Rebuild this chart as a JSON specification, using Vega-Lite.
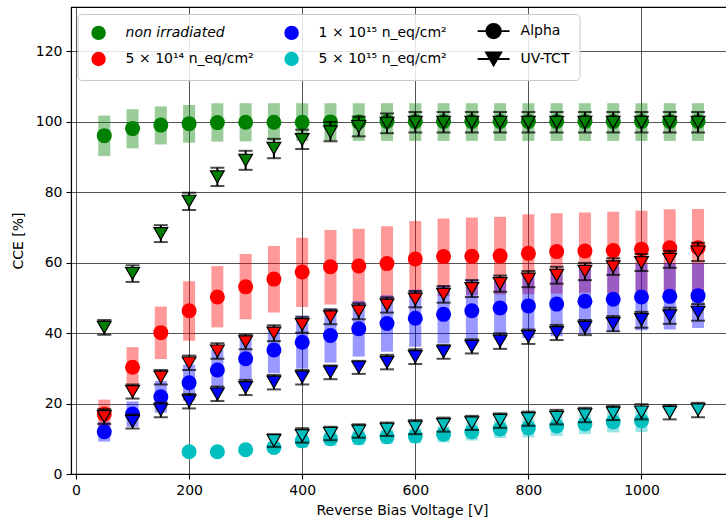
{
  "$schema": "https://vega.github.io/schema/vega-lite/v6.json",
  "autosize": {"type": "none"},
  "padding": {"left": 71, "top": 7, "right": 0, "bottom": 50},
  "width": 662,
  "height": 467,
  "config": {
    "font": "DejaVu Sans",
    "view": {"stroke": "black", "strokeWidth": 1.1},
    "axis": {
      "labelFont": "DejaVu Sans", "labelFontSize": 14, "labelColor": "black",
      "titleFont": "DejaVu Sans", "titleFontSize": 14, "titleFontWeight": "normal", "titleColor": "black",
      "domainColor": "black", "domainWidth": 1.1,
      "tickColor": "black", "tickSize": 5, "tickWidth": 1.1,
      "labelPadding": 4,
      "gridColor": "black", "gridWidth": 0.9, "gridOpacity": 0.75
    }
  },
  "data": {"values": [
    {"s":"non irradiated","m":"Alpha","V":50,"y":96.0,"lo":90.2,"hi":101.7},
    {"s":"non irradiated","m":"Alpha","V":100,"y":98.0,"lo":92.4,"hi":103.5},
    {"s":"non irradiated","m":"Alpha","V":150,"y":99.0,"lo":93.5,"hi":104.3},
    {"s":"non irradiated","m":"Alpha","V":200,"y":99.4,"lo":94.0,"hi":104.7},
    {"s":"non irradiated","m":"Alpha","V":250,"y":99.7,"lo":94.3,"hi":105.2},
    {"s":"non irradiated","m":"Alpha","V":300,"y":99.8,"lo":94.4,"hi":105.2},
    {"s":"non irradiated","m":"Alpha","V":350,"y":99.8,"lo":94.5,"hi":105.2},
    {"s":"non irradiated","m":"Alpha","V":400,"y":99.8,"lo":94.5,"hi":105.2},
    {"s":"non irradiated","m":"Alpha","V":450,"y":99.9,"lo":94.5,"hi":105.2},
    {"s":"non irradiated","m":"Alpha","V":500,"y":99.9,"lo":94.5,"hi":105.2},
    {"s":"non irradiated","m":"Alpha","V":550,"y":100.0,"lo":94.5,"hi":105.2},
    {"s":"non irradiated","m":"Alpha","V":600,"y":100.0,"lo":94.5,"hi":105.2},
    {"s":"non irradiated","m":"Alpha","V":650,"y":100.0,"lo":94.5,"hi":105.2},
    {"s":"non irradiated","m":"Alpha","V":700,"y":100.0,"lo":94.5,"hi":105.2},
    {"s":"non irradiated","m":"Alpha","V":750,"y":100.0,"lo":94.5,"hi":105.2},
    {"s":"non irradiated","m":"Alpha","V":800,"y":100.0,"lo":94.5,"hi":105.2},
    {"s":"non irradiated","m":"Alpha","V":850,"y":100.0,"lo":94.5,"hi":105.2},
    {"s":"non irradiated","m":"Alpha","V":900,"y":100.0,"lo":94.5,"hi":105.2},
    {"s":"non irradiated","m":"Alpha","V":950,"y":100.0,"lo":94.5,"hi":105.2},
    {"s":"non irradiated","m":"Alpha","V":1000,"y":100.0,"lo":94.5,"hi":105.2},
    {"s":"non irradiated","m":"Alpha","V":1050,"y":100.0,"lo":94.5,"hi":105.2},
    {"s":"non irradiated","m":"Alpha","V":1100,"y":100.0,"lo":94.5,"hi":105.2},

    {"s":"5e14","m":"Alpha","V":50,"y":17.0,"lo":12.8,"hi":21.1},
    {"s":"5e14","m":"Alpha","V":100,"y":30.3,"lo":24.6,"hi":36.0},
    {"s":"5e14","m":"Alpha","V":150,"y":40.1,"lo":32.6,"hi":47.5},
    {"s":"5e14","m":"Alpha","V":200,"y":46.3,"lo":37.8,"hi":54.7},
    {"s":"5e14","m":"Alpha","V":250,"y":50.2,"lo":41.6,"hi":59.0},
    {"s":"5e14","m":"Alpha","V":300,"y":53.1,"lo":43.9,"hi":62.4},
    {"s":"5e14","m":"Alpha","V":350,"y":55.3,"lo":45.8,"hi":64.7},
    {"s":"5e14","m":"Alpha","V":400,"y":57.3,"lo":47.4,"hi":67.0},
    {"s":"5e14","m":"Alpha","V":450,"y":58.8,"lo":48.1,"hi":69.2},
    {"s":"5e14","m":"Alpha","V":500,"y":59.0,"lo":48.4,"hi":69.6},
    {"s":"5e14","m":"Alpha","V":550,"y":59.7,"lo":49.0,"hi":70.3},
    {"s":"5e14","m":"Alpha","V":600,"y":61.0,"lo":50.0,"hi":71.8},
    {"s":"5e14","m":"Alpha","V":650,"y":61.7,"lo":50.5,"hi":72.5},
    {"s":"5e14","m":"Alpha","V":700,"y":61.8,"lo":50.8,"hi":72.8},
    {"s":"5e14","m":"Alpha","V":750,"y":61.9,"lo":50.9,"hi":73.0},
    {"s":"5e14","m":"Alpha","V":800,"y":62.6,"lo":51.0,"hi":73.7},
    {"s":"5e14","m":"Alpha","V":850,"y":63.1,"lo":51.2,"hi":74.0},
    {"s":"5e14","m":"Alpha","V":900,"y":63.3,"lo":51.4,"hi":74.2},
    {"s":"5e14","m":"Alpha","V":950,"y":63.4,"lo":51.3,"hi":74.4},
    {"s":"5e14","m":"Alpha","V":1000,"y":63.8,"lo":51.0,"hi":74.7},
    {"s":"5e14","m":"Alpha","V":1050,"y":64.2,"lo":51.2,"hi":75.1},
    {"s":"5e14","m":"Alpha","V":1100,"y":64.2,"lo":51.2,"hi":75.2},

    {"s":"1e15","m":"Alpha","V":50,"y":12.0,"lo":9.2,"hi":14.8},
    {"s":"1e15","m":"Alpha","V":100,"y":17.0,"lo":13.4,"hi":20.6},
    {"s":"1e15","m":"Alpha","V":150,"y":21.9,"lo":17.4,"hi":26.4},
    {"s":"1e15","m":"Alpha","V":200,"y":25.9,"lo":20.8,"hi":31.0},
    {"s":"1e15","m":"Alpha","V":250,"y":29.5,"lo":23.7,"hi":35.3},
    {"s":"1e15","m":"Alpha","V":300,"y":32.7,"lo":26.5,"hi":38.9},
    {"s":"1e15","m":"Alpha","V":350,"y":35.2,"lo":28.6,"hi":41.8},
    {"s":"1e15","m":"Alpha","V":400,"y":37.4,"lo":29.9,"hi":44.9},
    {"s":"1e15","m":"Alpha","V":450,"y":39.3,"lo":31.6,"hi":47.0},
    {"s":"1e15","m":"Alpha","V":500,"y":41.2,"lo":33.3,"hi":49.1},
    {"s":"1e15","m":"Alpha","V":550,"y":42.7,"lo":34.7,"hi":50.7},
    {"s":"1e15","m":"Alpha","V":600,"y":44.2,"lo":36.1,"hi":52.3},
    {"s":"1e15","m":"Alpha","V":650,"y":45.3,"lo":37.0,"hi":53.6},
    {"s":"1e15","m":"Alpha","V":700,"y":46.3,"lo":37.4,"hi":55.2},
    {"s":"1e15","m":"Alpha","V":750,"y":47.1,"lo":38.2,"hi":56.0},
    {"s":"1e15","m":"Alpha","V":800,"y":47.7,"lo":38.6,"hi":56.8},
    {"s":"1e15","m":"Alpha","V":850,"y":48.2,"lo":39.1,"hi":57.3},
    {"s":"1e15","m":"Alpha","V":900,"y":49.0,"lo":39.8,"hi":58.2},
    {"s":"1e15","m":"Alpha","V":950,"y":49.6,"lo":40.3,"hi":58.9},
    {"s":"1e15","m":"Alpha","V":1000,"y":50.2,"lo":40.8,"hi":59.6},
    {"s":"1e15","m":"Alpha","V":1050,"y":50.4,"lo":41.0,"hi":59.8},
    {"s":"1e15","m":"Alpha","V":1100,"y":50.6,"lo":41.4,"hi":59.8},

    {"s":"5e15","m":"Alpha","V":200,"y":6.3,"lo":5.0,"hi":7.6},
    {"s":"5e15","m":"Alpha","V":250,"y":6.3,"lo":5.0,"hi":7.6},
    {"s":"5e15","m":"Alpha","V":300,"y":6.9,"lo":5.5,"hi":8.3},
    {"s":"5e15","m":"Alpha","V":350,"y":7.5,"lo":6.0,"hi":9.0},
    {"s":"5e15","m":"Alpha","V":400,"y":9.4,"lo":7.5,"hi":11.3},
    {"s":"5e15","m":"Alpha","V":450,"y":10.0,"lo":8.0,"hi":12.0},
    {"s":"5e15","m":"Alpha","V":500,"y":10.3,"lo":8.2,"hi":12.4},
    {"s":"5e15","m":"Alpha","V":550,"y":10.6,"lo":8.5,"hi":12.7},
    {"s":"5e15","m":"Alpha","V":600,"y":10.8,"lo":8.7,"hi":13.0},
    {"s":"5e15","m":"Alpha","V":650,"y":11.3,"lo":9.0,"hi":13.6},
    {"s":"5e15","m":"Alpha","V":700,"y":12.0,"lo":9.5,"hi":14.5},
    {"s":"5e15","m":"Alpha","V":750,"y":12.8,"lo":10.2,"hi":15.4},
    {"s":"5e15","m":"Alpha","V":800,"y":13.1,"lo":10.4,"hi":15.8},
    {"s":"5e15","m":"Alpha","V":850,"y":13.6,"lo":10.8,"hi":16.4},
    {"s":"5e15","m":"Alpha","V":900,"y":14.2,"lo":11.3,"hi":17.1},
    {"s":"5e15","m":"Alpha","V":950,"y":14.8,"lo":11.8,"hi":17.8},
    {"s":"5e15","m":"Alpha","V":1000,"y":15.1,"lo":11.9,"hi":18.3},

    {"s":"non irradiated","m":"UV-TCT","V":50,"y":41.6,"lo":39.5,"hi":43.7},
    {"s":"non irradiated","m":"UV-TCT","V":100,"y":56.9,"lo":54.5,"hi":59.2},
    {"s":"non irradiated","m":"UV-TCT","V":150,"y":68.2,"lo":65.8,"hi":70.6},
    {"s":"non irradiated","m":"UV-TCT","V":200,"y":77.4,"lo":74.9,"hi":79.8},
    {"s":"non irradiated","m":"UV-TCT","V":250,"y":84.3,"lo":81.7,"hi":86.9},
    {"s":"non irradiated","m":"UV-TCT","V":300,"y":89.0,"lo":86.3,"hi":91.7},
    {"s":"non irradiated","m":"UV-TCT","V":350,"y":92.4,"lo":89.6,"hi":95.1},
    {"s":"non irradiated","m":"UV-TCT","V":400,"y":94.9,"lo":92.2,"hi":97.7},
    {"s":"non irradiated","m":"UV-TCT","V":450,"y":97.1,"lo":94.4,"hi":99.9},
    {"s":"non irradiated","m":"UV-TCT","V":500,"y":98.6,"lo":95.8,"hi":101.4},
    {"s":"non irradiated","m":"UV-TCT","V":550,"y":99.5,"lo":96.7,"hi":102.3},
    {"s":"non irradiated","m":"UV-TCT","V":600,"y":99.8,"lo":96.9,"hi":102.7},
    {"s":"non irradiated","m":"UV-TCT","V":650,"y":99.8,"lo":96.9,"hi":102.7},
    {"s":"non irradiated","m":"UV-TCT","V":700,"y":99.8,"lo":96.9,"hi":102.7},
    {"s":"non irradiated","m":"UV-TCT","V":750,"y":99.8,"lo":96.9,"hi":102.7},
    {"s":"non irradiated","m":"UV-TCT","V":800,"y":99.8,"lo":96.9,"hi":102.7},
    {"s":"non irradiated","m":"UV-TCT","V":850,"y":99.8,"lo":96.9,"hi":102.7},
    {"s":"non irradiated","m":"UV-TCT","V":900,"y":99.8,"lo":96.9,"hi":102.7},
    {"s":"non irradiated","m":"UV-TCT","V":950,"y":99.8,"lo":96.9,"hi":102.7},
    {"s":"non irradiated","m":"UV-TCT","V":1000,"y":99.8,"lo":96.9,"hi":102.7},
    {"s":"non irradiated","m":"UV-TCT","V":1050,"y":99.8,"lo":96.9,"hi":102.7},
    {"s":"non irradiated","m":"UV-TCT","V":1100,"y":99.8,"lo":96.9,"hi":102.7},

    {"s":"5e14","m":"UV-TCT","V":50,"y":16.3,"lo":14.2,"hi":18.4},
    {"s":"5e14","m":"UV-TCT","V":100,"y":23.4,"lo":21.4,"hi":25.4},
    {"s":"5e14","m":"UV-TCT","V":150,"y":27.5,"lo":25.4,"hi":29.5},
    {"s":"5e14","m":"UV-TCT","V":200,"y":31.5,"lo":29.5,"hi":33.6},
    {"s":"5e14","m":"UV-TCT","V":250,"y":34.9,"lo":32.7,"hi":37.1},
    {"s":"5e14","m":"UV-TCT","V":300,"y":37.5,"lo":35.4,"hi":39.6},
    {"s":"5e14","m":"UV-TCT","V":350,"y":40.0,"lo":37.7,"hi":42.2},
    {"s":"5e14","m":"UV-TCT","V":400,"y":42.4,"lo":40.1,"hi":44.6},
    {"s":"5e14","m":"UV-TCT","V":450,"y":44.6,"lo":42.5,"hi":46.7},
    {"s":"5e14","m":"UV-TCT","V":500,"y":46.2,"lo":43.9,"hi":48.4},
    {"s":"5e14","m":"UV-TCT","V":550,"y":47.9,"lo":45.8,"hi":50.1},
    {"s":"5e14","m":"UV-TCT","V":600,"y":49.6,"lo":47.3,"hi":51.9},
    {"s":"5e14","m":"UV-TCT","V":650,"y":51.0,"lo":48.6,"hi":53.3},
    {"s":"5e14","m":"UV-TCT","V":700,"y":52.6,"lo":50.2,"hi":55.0},
    {"s":"5e14","m":"UV-TCT","V":750,"y":54.0,"lo":51.7,"hi":56.3},
    {"s":"5e14","m":"UV-TCT","V":800,"y":55.3,"lo":53.0,"hi":57.6},
    {"s":"5e14","m":"UV-TCT","V":850,"y":56.4,"lo":54.0,"hi":58.8},
    {"s":"5e14","m":"UV-TCT","V":900,"y":57.5,"lo":55.0,"hi":59.9},
    {"s":"5e14","m":"UV-TCT","V":950,"y":58.8,"lo":56.5,"hi":61.2},
    {"s":"5e14","m":"UV-TCT","V":1000,"y":60.0,"lo":57.6,"hi":62.4},
    {"s":"5e14","m":"UV-TCT","V":1050,"y":60.9,"lo":58.5,"hi":63.3},
    {"s":"5e14","m":"UV-TCT","V":1100,"y":63.0,"lo":60.4,"hi":65.6},

    {"s":"1e15","m":"UV-TCT","V":100,"y":14.9,"lo":12.9,"hi":16.9},
    {"s":"1e15","m":"UV-TCT","V":150,"y":18.2,"lo":16.1,"hi":20.2},
    {"s":"1e15","m":"UV-TCT","V":200,"y":20.7,"lo":18.6,"hi":22.7},
    {"s":"1e15","m":"UV-TCT","V":250,"y":22.7,"lo":20.7,"hi":24.8},
    {"s":"1e15","m":"UV-TCT","V":300,"y":24.5,"lo":22.4,"hi":26.7},
    {"s":"1e15","m":"UV-TCT","V":350,"y":26.1,"lo":24.0,"hi":28.1},
    {"s":"1e15","m":"UV-TCT","V":400,"y":27.5,"lo":25.4,"hi":29.5},
    {"s":"1e15","m":"UV-TCT","V":450,"y":28.9,"lo":26.9,"hi":30.8},
    {"s":"1e15","m":"UV-TCT","V":500,"y":30.3,"lo":28.4,"hi":32.1},
    {"s":"1e15","m":"UV-TCT","V":550,"y":31.7,"lo":29.7,"hi":33.8},
    {"s":"1e15","m":"UV-TCT","V":600,"y":33.3,"lo":31.2,"hi":35.4},
    {"s":"1e15","m":"UV-TCT","V":650,"y":34.7,"lo":32.7,"hi":36.6},
    {"s":"1e15","m":"UV-TCT","V":700,"y":36.2,"lo":34.2,"hi":38.2},
    {"s":"1e15","m":"UV-TCT","V":750,"y":37.7,"lo":35.5,"hi":39.9},
    {"s":"1e15","m":"UV-TCT","V":800,"y":39.0,"lo":36.9,"hi":41.0},
    {"s":"1e15","m":"UV-TCT","V":850,"y":40.1,"lo":38.0,"hi":42.3},
    {"s":"1e15","m":"UV-TCT","V":900,"y":41.6,"lo":39.4,"hi":43.7},
    {"s":"1e15","m":"UV-TCT","V":950,"y":42.7,"lo":40.5,"hi":44.8},
    {"s":"1e15","m":"UV-TCT","V":1000,"y":43.8,"lo":41.5,"hi":46.0},
    {"s":"1e15","m":"UV-TCT","V":1050,"y":44.9,"lo":42.6,"hi":47.2},
    {"s":"1e15","m":"UV-TCT","V":1100,"y":45.9,"lo":43.5,"hi":48.2},

    {"s":"5e15","m":"UV-TCT","V":350,"y":9.5,"lo":7.7,"hi":11.3},
    {"s":"5e15","m":"UV-TCT","V":400,"y":10.9,"lo":8.9,"hi":13.0},
    {"s":"5e15","m":"UV-TCT","V":450,"y":11.5,"lo":9.6,"hi":13.4},
    {"s":"5e15","m":"UV-TCT","V":500,"y":12.2,"lo":10.3,"hi":14.1},
    {"s":"5e15","m":"UV-TCT","V":550,"y":12.7,"lo":10.8,"hi":14.6},
    {"s":"5e15","m":"UV-TCT","V":600,"y":13.3,"lo":11.3,"hi":15.3},
    {"s":"5e15","m":"UV-TCT","V":650,"y":14.0,"lo":12.0,"hi":16.0},
    {"s":"5e15","m":"UV-TCT","V":700,"y":14.5,"lo":12.5,"hi":16.5},
    {"s":"5e15","m":"UV-TCT","V":750,"y":15.2,"lo":13.1,"hi":17.2},
    {"s":"5e15","m":"UV-TCT","V":800,"y":15.7,"lo":13.7,"hi":17.7},
    {"s":"5e15","m":"UV-TCT","V":850,"y":16.1,"lo":14.1,"hi":18.2},
    {"s":"5e15","m":"UV-TCT","V":900,"y":16.8,"lo":14.7,"hi":18.8},
    {"s":"5e15","m":"UV-TCT","V":950,"y":17.3,"lo":15.3,"hi":19.3},
    {"s":"5e15","m":"UV-TCT","V":1000,"y":17.6,"lo":15.5,"hi":19.8},
    {"s":"5e15","m":"UV-TCT","V":1050,"y":17.5,"lo":15.5,"hi":19.6},
    {"s":"5e15","m":"UV-TCT","V":1100,"y":18.2,"lo":16.1,"hi":20.2}
  ]},
  "encoding": {
    "x": {"field": "V", "type": "quantitative",
      "scale": {"domain": [0, 1153], "nice": false, "zero": false},
      "axis": {"values": [0, 200, 400, 600, 800, 1000], "format": "d", "title": "Reverse Bias Voltage [V]", "titlePadding": 6}},
    "y": {"type": "quantitative",
      "scale": {"domain": [0, 132.5], "nice": false},
      "axis": {"values": [0, 20, 40, 60, 80, 100, 120], "format": "d", "title": "CCE [%]", "titlePadding": 10}}
  },
  "layer": [
    {
      "transform": [{"filter": "datum.m === 'Alpha'"}],
      "mark": {"type": "bar", "size": 12, "fillOpacity": 0.4, "strokeWidth": 0},
      "encoding": {
        "y": {"field": "lo", "type": "quantitative"},
        "y2": {"field": "hi"},
        "fill": {"field": "s", "type": "nominal", "legend": null,
          "scale": {"domain": ["non irradiated", "5e14", "1e15", "5e15"], "range": ["#008000", "#ff0000", "#0000ff", "#00bfbf"]}}
      }
    },
    {
      "transform": [{"filter": "datum.m === 'Alpha'"}],
      "mark": {"type": "point", "shape": "circle", "filled": true, "size": 225, "opacity": 1, "strokeWidth": 0},
      "encoding": {
        "y": {"field": "y", "type": "quantitative"},
        "color": {"field": "s", "type": "nominal",
          "scale": {"domain": ["non irradiated", "1e15", "Alpha", "5e14", "5e15", "UV-TCT"],
                    "range": ["#008000", "#0000ff", "#000000", "#ff0000", "#00bfbf", "#000000"]},
          "legend": {
            "title": null, "orient": "none", "legendX": 6.6, "legendY": 7, "columns": 3, "direction": "horizontal",
            "symbolSize": 210, "symbolStrokeWidth": 1.5, "symbolOpacity": 1, "symbolType": "circle", "symbolOffset": 4,
            "labelFont": "DejaVu Sans", "labelFontSize": 14, "labelColor": "black", "labelOffset": 20, "labelLimit": 300,
            "rowPadding": 6, "columnPadding": 26,
            "padding": 10, "fillColor": "rgba(255,255,255,0.85)", "strokeColor": "#c8c8c8", "cornerRadius": 4,
            "labelExpr": "datum.value === '5e14' ? '5 × 10¹⁴ n_eq/cm²' : datum.value === '1e15' ? '1 × 10¹⁵ n_eq/cm²' : datum.value === '5e15' ? '5 × 10¹⁵ n_eq/cm²' : datum.label",
            "encode": {
              "symbols": {"update": {
                "shape": {"signal": "datum.value === 'Alpha' ? 'M-2.2,0L-1,0A1,1 0 1,1 1,0A1,1 0 1,1 -1,0M1,0L2.2,0' : datum.value === 'UV-TCT' ? 'M-2.2,0L2.2,0M-1.05,-0.9L1.05,-0.9L0,0.9Z' : 'circle'"},
                "stroke": {"value": "black"},
                "strokeWidth": {"signal": "datum.value === 'Alpha' || datum.value === 'UV-TCT' ? 1.8 : 0"},
                "opacity": {"value": 1}
              }},
              "labels": {"update": {
                "fontStyle": {"signal": "datum.value === 'non irradiated' ? 'italic' : 'normal'"}
              }}
            }
          }
        }
      }
    },
    {
      "transform": [{"filter": "datum.m === 'UV-TCT'"}],
      "mark": {"type": "errorbar", "ticks": {"size": 14, "thickness": 2, "color": "black"}, "rule": {"strokeWidth": 2, "color": "black"}, "color": "black"},
      "encoding": {
        "y": {"field": "lo", "type": "quantitative"},
        "y2": {"field": "hi"}
      }
    },
    {
      "transform": [{"filter": "datum.m === 'UV-TCT'"}],
      "mark": {"type": "point", "shape": "triangle-down", "filled": true, "size": 190, "opacity": 1, "stroke": "black", "strokeWidth": 1.2},
      "encoding": {
        "y": {"field": "y", "type": "quantitative"},
        "color": {"field": "s", "type": "nominal"},
        "stroke": {"value": "black"}
      }
    }
  ]
}
